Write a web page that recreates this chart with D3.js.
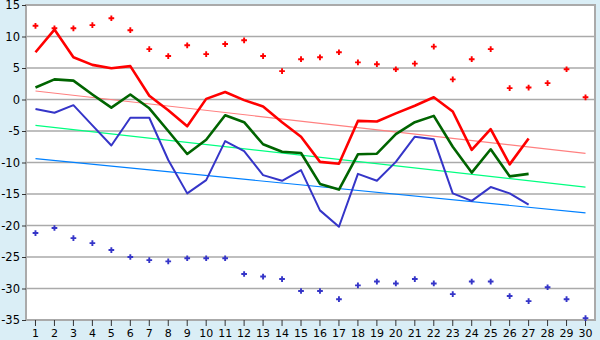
<!DOCTYPE html>
<html><head><meta charset="utf-8">
<script src="https://cdn.jsdelivr.net/npm/d3@7"></script>
<style>
html,body{margin:0;padding:0;background:#daeef6;}
svg{display:block;}
text{font-family:"DejaVu Sans",sans-serif;font-size:11px;fill:#000;}
</style></head><body>
<svg id="c" width="600" height="340"></svg>
<script>
const categories = d3.range(1, 31);
const yTicks = [15, 10, 5, 0, -5, -10, -15, -20, -25, -30, -35];

const redPoints = [11.7, 11.3, 11.3, 11.8, 12.9, 11.0, 8.0, 6.9, 8.6, 7.2, 8.8, 9.4, 6.9, 4.5, 6.4, 6.7, 7.5, 5.9, 5.6, 4.8, 5.7, 8.4, 3.2, 6.4, 8.0, 1.8, 1.9, 2.6, 4.8, 0.35];
const bluePoints = [-21.2, -20.4, -22.0, -22.8, -23.9, -25.0, -25.5, -25.7, -25.2, -25.2, -25.2, -27.7, -28.1, -28.5, -30.4, -30.4, -31.7, -29.5, -28.9, -29.2, -28.5, -29.2, -30.9, -28.9, -28.9, -31.2, -32.0, -29.8, -31.7, -34.7];

const redLine = [7.5, 11.1, 6.7, 5.5, 4.95, 5.3, 0.6, -1.7, -4.25, 0.1, 1.2, -0.1, -1.1, -3.6, -5.9, -9.9, -10.2, -3.4, -3.5, -2.2, -1.0, 0.35, -1.9, -8.0, -4.7, -10.3, -6.2];
const greenLine = [1.9, 3.2, 3.0, 0.8, -1.3, 0.8, -1.4, -5.0, -8.65, -6.4, -2.5, -3.6, -7.1, -8.3, -8.5, -13.4, -14.3, -8.7, -8.6, -5.5, -3.6, -2.6, -7.5, -11.6, -7.9, -12.2, -11.8];
const blueLine = [-1.5, -2.1, -0.9, -4.1, -7.3, -2.9, -2.9, -9.6, -14.9, -12.8, -6.6, -8.2, -12.0, -12.9, -11.2, -17.6, -20.2, -11.8, -12.9, -9.9, -5.9, -6.3, -14.9, -16.1, -13.9, -14.9, -16.7];

const redTrend = [1.35, -8.55];
const greenTrend = [-4.1, -13.9];
const blueTrend = [-9.4, -18.0];

const svg = d3.select("#c");
const L = 26, R = 595, T = 5, B = 320;

const x = d3.scaleBand().domain(categories).range([L, R]);
const cx = d => x(d) + x.bandwidth() / 2;
const y = d3.scaleLinear().domain([-35, 15]).range([B, T]);

// plot background
svg.append("rect").attr("x", L).attr("y", T).attr("width", R - L).attr("height", B - T).attr("fill", "#fff");

// gridlines
svg.append("g").selectAll("line").data(yTicks).join("line")
  .attr("x1", L).attr("x2", R).attr("y1", d => y(d)).attr("y2", d => y(d))
  .attr("stroke", "#aaa").attr("stroke-width", 1.5);

// border
svg.append("rect").attr("x", L).attr("y", T).attr("width", R - L).attr("height", B - T)
  .attr("fill", "none").attr("stroke", "#aaa").attr("stroke-width", 2);

// y axis
const yAxis = d3.axisLeft(y).tickValues(yTicks).tickSize(4).tickPadding(2).tickFormat(d => String(d));
const ga = svg.append("g").attr("transform", `translate(${L},0)`).call(yAxis);
ga.select(".domain").remove();
ga.selectAll(".tick line").attr("stroke", "#333");
ga.selectAll("text").style("font-size", "11.5px").attr("font-family", "DejaVu Sans, sans-serif").attr("fill", "#000");

// x axis
const xAxis = d3.axisBottom(x).tickSize(6).tickPadding(3);
const gx = svg.append("g").attr("transform", `translate(0,${B})`).call(xAxis);
gx.select(".domain").remove();
gx.selectAll(".tick line").attr("stroke", "#333");
gx.selectAll("text").style("font-size", "11px").attr("font-family", "DejaVu Sans, sans-serif").attr("fill", "#000");

// trend lines
function trend(vals, color) {
  svg.append("line")
    .attr("x1", cx(categories[0])).attr("x2", cx(categories[categories.length - 1]))
    .attr("y1", y(vals[0])).attr("y2", y(vals[1]))
    .attr("stroke", color).attr("stroke-width", 1.2);
}
trend(redTrend, "#ff8080");
trend(greenTrend, "#00ff80");
trend(blueTrend, "#0080ff");

// lines
const line = d3.line().x((d, i) => cx(categories[i])).y(d => y(d));
function drawLine(vals, color, w) {
  svg.append("path").datum(vals).attr("d", line).attr("fill", "none")
    .attr("stroke", color).attr("stroke-width", w).attr("stroke-linejoin", "round");
}
drawLine(blueLine, "#3535c8", 2);
drawLine(greenLine, "#006400", 2.6);
drawLine(redLine, "#ff0000", 2.6);

// scatter markers
const sym = d3.symbol().type(d3.symbolCross).size(18);
function drawPts(vals, color) {
  svg.append("g").selectAll("path").data(vals).join("path")
    .attr("d", sym)
    .attr("transform", (d, i) => `translate(${cx(categories[i])},${y(d)})`)
    .attr("fill", color);
}
drawPts(redPoints, "#ff0000");
drawPts(bluePoints, "#3535c8");
</script>
</body></html>
